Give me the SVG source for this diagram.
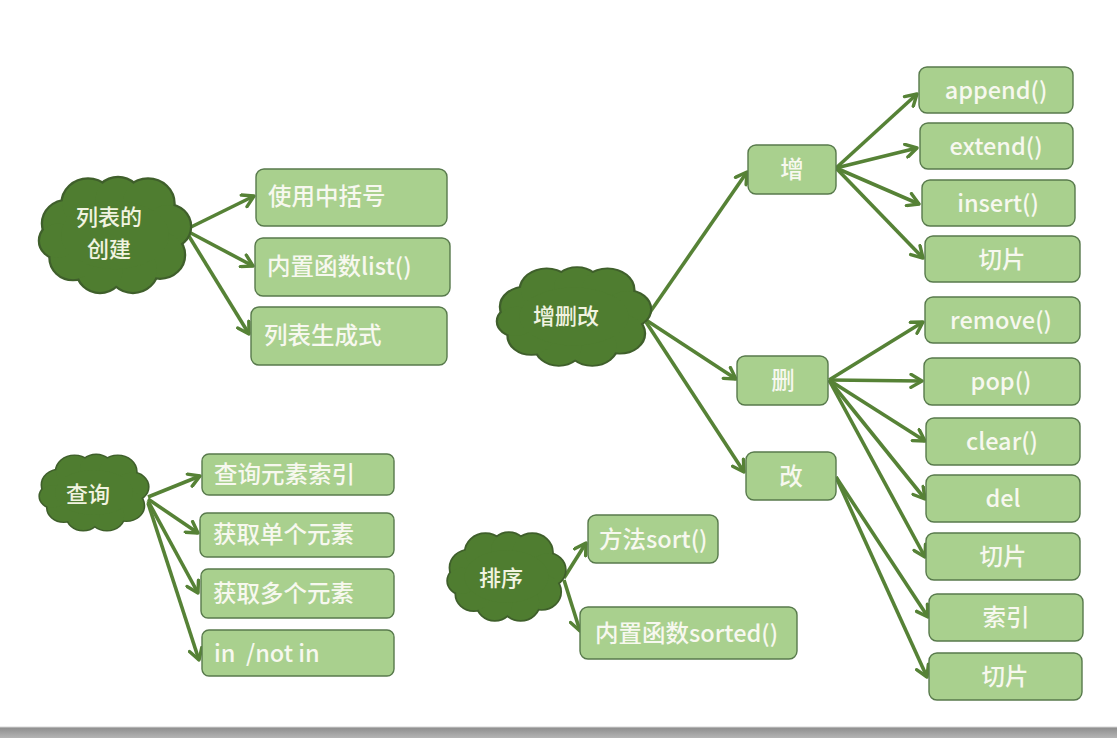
<svg xmlns="http://www.w3.org/2000/svg" xmlns:xlink="http://www.w3.org/1999/xlink" width="1117" height="738" viewBox="0 0 1117 738">
<style>
.box{fill:#a9d08e;stroke:#587a4c;stroke-width:1.4}
.t{font-family:"Noto Sans CJK SC","Noto Sans",sans-serif;font-size:23.5px;font-weight:500;fill:#f7f8ef;white-space:pre}
.c{text-anchor:middle}
.ct{font-family:"Noto Sans CJK SC",sans-serif;font-size:22px;font-weight:500;fill:#f1f3e0;text-anchor:middle}
.cs{fill:#4f7d30;stroke:#3f5f2b;stroke-width:3}
.cf{fill:#4f7d30;stroke:none}
.arr{stroke:#568236;stroke-width:3.6;fill:none;marker-end:url(#ah)}
</style>
<defs>
<marker id="ah" markerUnits="userSpaceOnUse" markerWidth="16" markerHeight="16" refX="13" refY="8" orient="auto">
<path d="M2,1.5 L13,8 L2,14.5" fill="none" stroke="#568236" stroke-width="3.4" stroke-linecap="round" stroke-linejoin="round"/>
</marker>
<g id="cloudShape">
<circle cx="-32" cy="-8" r="16"/>
<circle cx="-18" cy="-22" r="17"/>
<circle cx="2" cy="-25" r="15"/>
<circle cx="22" cy="-22" r="17"/>
<circle cx="35" cy="-6" r="15"/>
<circle cx="30" cy="14" r="16"/>
<circle cx="12" cy="24" r="16"/>
<circle cx="-10" cy="25" r="15"/>
<circle cx="-28" cy="16" r="15"/>
<circle cx="-38" cy="4" r="12"/>
<ellipse cx="0" cy="0" rx="36" ry="24"/>
</g>
<linearGradient id="bar" x1="0" y1="0" x2="0" y2="1"><stop offset="0" stop-color="#8c8c8c"/><stop offset="1" stop-color="#b4b4b4"/></linearGradient>
</defs>
<rect x="0" y="0" width="1117" height="738" fill="#ffffff"/>
<rect x="0" y="727" width="1117" height="11" fill="url(#bar)"/>
<line x1="0" y1="727" x2="1117" y2="727" stroke="#d6d6d6" stroke-width="1"/>

<g id="connectors">
<line class="arr" x1="187" y1="229" x2="254" y2="196"/>
<line class="arr" x1="187" y1="231" x2="253" y2="266"/>
<line class="arr" x1="187" y1="233" x2="249" y2="334"/>
<line class="arr" x1="646" y1="318" x2="747" y2="172"/>
<line class="arr" x1="646" y1="320" x2="736" y2="379"/>
<line class="arr" x1="646" y1="322" x2="744" y2="472"/>
<line class="arr" x1="836" y1="168" x2="917" y2="94"/>
<line class="arr" x1="836" y1="168" x2="917" y2="148"/>
<line class="arr" x1="836" y1="168" x2="919" y2="204"/>
<line class="arr" x1="836" y1="168" x2="923" y2="258"/>
<line class="arr" x1="829" y1="380" x2="923" y2="322"/>
<line class="arr" x1="829" y1="380" x2="922" y2="381"/>
<line class="arr" x1="829" y1="380" x2="925" y2="441"/>
<line class="arr" x1="829" y1="380" x2="925" y2="499"/>
<line class="arr" x1="829" y1="380" x2="925" y2="557"/>
<line class="arr" x1="836" y1="477" x2="928" y2="617"/>
<line class="arr" x1="836" y1="477" x2="927" y2="677"/>
<line class="arr" x1="148" y1="497" x2="200" y2="476"/>
<line class="arr" x1="148" y1="499" x2="198" y2="533"/>
<line class="arr" x1="148" y1="501" x2="198" y2="593"/>
<line class="arr" x1="148" y1="503" x2="199" y2="660"/>
<line class="arr" x1="564" y1="578" x2="586" y2="543"/>
<line class="arr" x1="564" y1="580" x2="580" y2="631"/>
</g>

<g id="cloud-create">
<g transform="translate(115,235) scale(1.5,1.425)"><use xlink:href="#cloudShape" class="cs"/><use xlink:href="#cloudShape" class="cf"/></g>
<text class="ct" x="109" y="225">列表的</text>
<text class="ct" x="109" y="257">创建</text>
</g>
<g id="cloud-crud">
<g transform="translate(574,316.5) scale(1.52,1.21)"><use xlink:href="#cloudShape" class="cs"/><use xlink:href="#cloudShape" class="cf"/></g>
<text class="ct" x="566" y="324">增删改</text>
</g>
<g id="cloud-query">
<g transform="translate(94,492.5) scale(1.08,0.94)"><use xlink:href="#cloudShape" class="cs"/><use xlink:href="#cloudShape" class="cf"/></g>
<text class="ct" x="88" y="502">查询</text>
</g>
<g id="cloud-sort">
<g transform="translate(506.5,576.5) scale(1.17,1.09)"><use xlink:href="#cloudShape" class="cs"/><use xlink:href="#cloudShape" class="cf"/></g>
<text class="ct" x="501" y="586">排序</text>
</g>

<g id="n-bracket"><rect class="box" x="256" y="169" width="191" height="57" rx="8"/><text class="t" x="268" y="205">使用中括号</text></g>
<g id="n-list"><rect class="box" x="255" y="238" width="195" height="58" rx="8"/><text class="t" x="267" y="275">内置函数list()</text></g>
<g id="n-comp"><rect class="box" x="251" y="307" width="196" height="58" rx="8"/><text class="t" x="264" y="344">列表生成式</text></g>

<g id="n-add"><rect class="box" x="748" y="145" width="88" height="49" rx="8"/><text class="t c" x="792" y="178">增</text></g>
<g id="n-del"><rect class="box" x="737" y="356" width="91" height="49" rx="8"/><text class="t c" x="783" y="389">删</text></g>
<g id="n-mod"><rect class="box" x="746" y="452" width="90" height="48" rx="8"/><text class="t c" x="791" y="485">改</text></g>

<g id="n-append"><rect class="box" x="919" y="67" width="154" height="46" rx="8"/><text class="t c" x="996" y="99">append()</text></g>
<g id="n-extend"><rect class="box" x="920" y="123" width="153" height="46" rx="8"/><text class="t c" x="996" y="155">extend()</text></g>
<g id="n-insert"><rect class="box" x="922" y="180" width="153" height="46" rx="8"/><text class="t c" x="998" y="212">insert()</text></g>
<g id="n-slice1"><rect class="box" x="925" y="236" width="155" height="46" rx="8"/><text class="t c" x="1002" y="268">切片</text></g>

<g id="n-remove"><rect class="box" x="925" y="297" width="155" height="46" rx="8"/><text class="t c" x="1001" y="329">remove()</text></g>
<g id="n-pop"><rect class="box" x="924" y="358" width="156" height="47" rx="8"/><text class="t c" x="1001" y="390">pop()</text></g>
<g id="n-clear"><rect class="box" x="926" y="418" width="154" height="47" rx="8"/><text class="t c" x="1002" y="450">clear()</text></g>
<g id="n-delkw"><rect class="box" x="926" y="475" width="154" height="47" rx="8"/><text class="t c" x="1003" y="507">del</text></g>
<g id="n-slice2"><rect class="box" x="926" y="533" width="154" height="47" rx="8"/><text class="t c" x="1003" y="565">切片</text></g>

<g id="n-index"><rect class="box" x="929" y="594" width="154" height="47" rx="8"/><text class="t c" x="1006" y="626">索引</text></g>
<g id="n-slice3"><rect class="box" x="929" y="653" width="153" height="47" rx="8"/><text class="t c" x="1005" y="685">切片</text></g>

<g id="n-qindex"><rect class="box" x="202" y="454" width="192" height="41" rx="7"/><text class="t" x="214" y="483">查询元素索引</text></g>
<g id="n-qone"><rect class="box" x="200" y="513" width="194" height="44" rx="7"/><text class="t" x="213" y="543">获取单个元素</text></g>
<g id="n-qmany"><rect class="box" x="201" y="569" width="193" height="49" rx="7"/><text class="t" x="213" y="602">获取多个元素</text></g>
<g id="n-qin"><rect class="box" x="202" y="630" width="192" height="46" rx="7"/><text class="t" x="214" y="662">in  /not in</text></g>

<g id="n-sort"><rect class="box" x="588" y="515" width="130" height="48" rx="8"/><text class="t" x="599" y="548">方法sort()</text></g>
<g id="n-sorted"><rect class="box" x="580" y="607" width="217" height="52" rx="8"/><text class="t" x="595" y="642">内置函数sorted()</text></g>
</svg>
